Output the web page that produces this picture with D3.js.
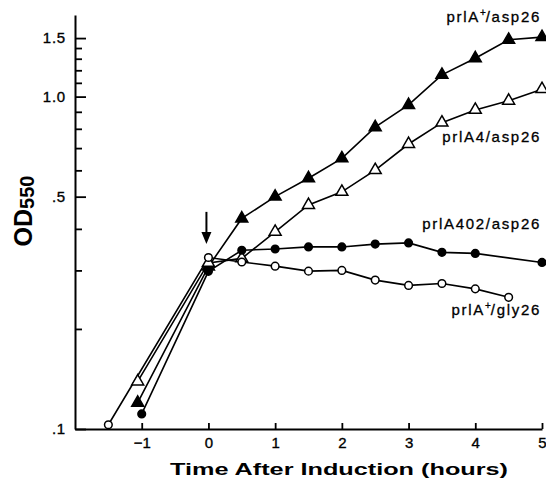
<!DOCTYPE html>
<html>
<head>
<meta charset="utf-8">
<script src="https://cdn.jsdelivr.net/npm/d3@7"></script>
<style>
  html, body { margin: 0; padding: 0; background: #fff; }
  svg { display: block; }
  text { font-family: "Liberation Sans", Arial, Helvetica, sans-serif; fill: #000; }
</style>
</head>
<body>
<div id="chart"></div>
<script>
// Datos (OD550 vs horas tras la inducción)
const timeWtAsp = [-1.06, 0, 0.5, 1, 1.5, 2, 2.5, 3, 3.5, 4, 4.5, 5];
const odWtAsp = [0.12, 0.308, 0.43, 0.50, 0.568, 0.652, 0.809, 0.944, 1.163, 1.305, 1.482, 1.51];

const timeA4Asp = [-1.06, 0, 0.5, 1, 1.5, 2, 2.5, 3, 3.5, 4, 4.5, 5];
const odA4Asp = [0.139, 0.316, 0.326, 0.392, 0.472, 0.517, 0.601, 0.72, 0.835, 0.912, 0.972, 1.053];

const timeA402Asp = [-1, 0, 0.5, 1, 1.5, 2, 2.5, 3, 3.5, 4, 5];
const odA402Asp = [0.111, 0.298, 0.345, 0.348, 0.353, 0.353, 0.36, 0.363, 0.34, 0.3375, 0.317];

const timeWtGly = [-1.5, 0, 0.5, 1, 1.5, 2, 2.5, 3, 3.5, 4, 4.5];
const odWtGly = [0.103, 0.328, 0.318, 0.309, 0.2985, 0.300, 0.2805, 0.2704, 0.274, 0.264, 0.249];

const seriesLabels = ["prlA+/asp26", "prlA4/asp26", "prlA402/asp26", "prlA+/gly26"];

const xTicks = [-1, 0, 1, 2, 3, 4, 5];
const yTicks = [0.1, 0.5, 1.0, 1.5];
const yTickLabels = [".1", ".5", "1.0", "1.5"];
const yMinorTicks = [0.2, 0.3, 0.4, 0.6, 0.7, 0.8, 0.9, 1.1, 1.2, 1.3, 1.4];

// flecha de inducción (t = 0)
const arrowTime = 0;
const arrowFrom = 0.45;
const arrowTo = 0.36;

const width = 546;
const height = 478;

const svg = d3.select("#chart")
    .append("svg")
    .attr("width", width)
    .attr("height", height);

const x = d3.scaleLinear().domain([-2, 5]).range([75, 542]);
const y = d3.scaleLog().domain([0.1, 1.76]).range([429, 15]);

// Ejes
const yAxis = svg.append("g")
    .attr("transform", "translate(75,0)")
    .call(d3.axisLeft(y)
        .tickValues(yTicks)
        .tickFormat((d, i) => yTickLabels[i])
        .tickSizeInner(-11)
        .tickSizeOuter(0)
        .tickPadding(9));

svg.append("g")
    .attr("transform", "translate(75,0)")
    .call(d3.axisLeft(y)
        .tickValues(yMinorTicks)
        .tickFormat("")
        .tickSizeInner(-7)
        .tickSizeOuter(0))
    .call(g => g.select(".domain").remove());

const xAxis = svg.append("g")
    .attr("transform", "translate(0,429)")
    .call(d3.axisBottom(x)
        .tickValues(xTicks)
        .tickFormat(d3.format("d"))
        .tickSizeInner(-6)
        .tickSizeOuter(0)
        .tickPadding(8));

svg.selectAll(".domain").attr("stroke", "#000").attr("stroke-width", 2);
svg.selectAll(".tick line").attr("stroke", "#000").attr("stroke-width", 1.8);
svg.selectAll(".tick text")
    .attr("font-family", "'Liberation Sans', Arial, sans-serif")
    .attr("font-size", "15px")
    .attr("fill", "#000")
    .attr("stroke", "#000")
    .attr("stroke-width", 0.35);
yAxis.selectAll(".tick text").attr("letter-spacing", "0.8px");

// Títulos de ejes
svg.append("text")
    .attr("x", 339)
    .attr("y", 474.5)
    .attr("text-anchor", "middle")
    .attr("font-size", "17px")
    .attr("font-weight", "bold")
    .attr("textLength", 338)
    .attr("lengthAdjust", "spacingAndGlyphs")
    .text("Time After Induction (hours)");

const yTitle = svg.append("text")
    .attr("transform", "translate(32,211) rotate(-90)")
    .attr("text-anchor", "middle")
    .attr("font-weight", "bold");
yTitle.append("tspan").attr("font-size", "25px").text("OD");
yTitle.append("tspan").attr("font-size", "20px").attr("dy", 2).text("550");

// Series
const series = [
    { t: timeWtAsp, v: odWtAsp, symbol: d3.symbolTriangle, fill: "#000" },
    { t: timeA4Asp, v: odA4Asp, symbol: d3.symbolTriangle, fill: "#fff" },
    { t: timeA402Asp, v: odA402Asp, symbol: d3.symbolCircle, fill: "#000" },
    { t: timeWtGly, v: odWtGly, symbol: d3.symbolCircle, fill: "#fff" }
];

const line = d3.line()
    .x(d => x(d[0]))
    .y(d => y(d[1]));

series.forEach(s => {
    const pts = s.t.map((t, i) => [t, s.v[i]]);
    svg.append("path")
        .datum(pts)
        .attr("d", line)
        .attr("fill", "none")
        .attr("stroke", "#000")
        .attr("stroke-width", 1.6);
});

series.forEach(s => {
    const pts = s.t.map((t, i) => [t, s.v[i]]);
    const isTri = s.symbol === d3.symbolTriangle;
    svg.append("g")
        .selectAll("path")
        .data(pts)
        .enter()
        .append("path")
        .attr("transform", d => `translate(${x(d[0])},${y(d[1])})`)
        .attr("d", d3.symbol().type(s.symbol).size(isTri ? 62 : 46))
        .attr("fill", s.fill)
        .attr("stroke", "#000")
        .attr("stroke-width", 1.5);
});

// Flecha
const ax = x(arrowTime) - 2;
svg.append("line")
    .attr("x1", ax).attr("x2", ax)
    .attr("y1", y(arrowFrom)).attr("y2", y(arrowTo) - 10)
    .attr("stroke", "#000")
    .attr("stroke-width", 2);
svg.append("path")
    .attr("d", `M${ax - 5},${y(arrowTo) - 12} L${ax + 5},${y(arrowTo) - 12} L${ax},${y(arrowTo)} Z`)
    .attr("fill", "#000");

// Etiquetas de series
const labelPos = [[541, 21.7], [541, 141.7], [541, 229], [541, 315]];
seriesLabels.forEach((lab, i) => {
    const t = svg.append("text")
        .attr("x", labelPos[i][0])
        .attr("y", labelPos[i][1])
        .attr("text-anchor", "end")
        .attr("font-size", "15px")
        .attr("letter-spacing", "1.7px")
        .attr("stroke", "#000")
        .attr("stroke-width", 0.3);
    const parts = lab.split("+");
    t.append("tspan").text(parts[0]);
    if (parts.length > 1) {
        t.append("tspan").attr("font-size", "10px").attr("dy", -6).attr("letter-spacing", "0px").text("+");
        t.append("tspan").attr("dy", 6).text(parts[1]);
    }
});
</script>
</body>
</html>
